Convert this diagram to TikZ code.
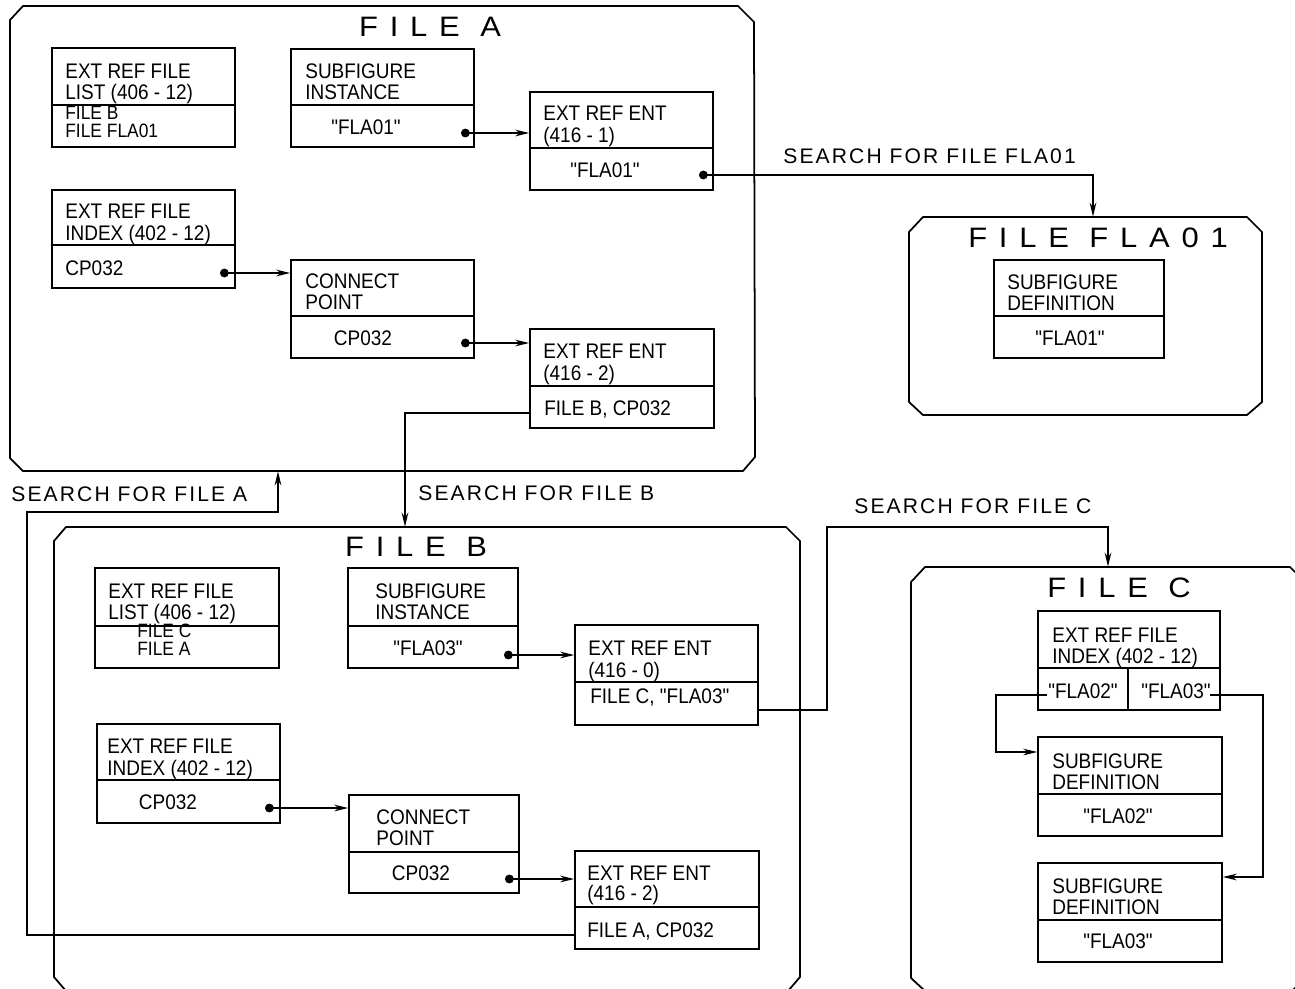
\documentclass[tikz,border=0pt]{standalone}
\usepackage{fontspec}
\setmainfont{Liberation Sans}
\newfontfamily\boxfont[FakeStretch=0.9]{Liberation Sans}
\newfontfamily\lblfont[LetterSpace=10]{Liberation Sans}
\newfontfamily\ttlfont[LetterSpace=42,FakeStretch=1.1]{Liberation Sans}
\usetikzlibrary{arrows.meta,fit}
\newcounter{tnum}
% text line: [style] {x,y} {text}
\newcommand\tline[3][bt]{\stepcounter{tnum}\node[#1] (txt\arabic{tnum}) at (#2) {#3};}
% record box: name, x1, y1, x2, y2, divider y
\newcommand\recbox[6]{%
  \node[recb, fit={(#2,#3)(#4,#5)}] (#1) {};
  \draw[recline] (#1.west |- 0,#6) -- (#1.east |- 0,#6);}
\tikzset{
  recb/.style={draw, line width=0.9pt, inner sep=0pt},
  recline/.style={line width=0.9pt},
  bt/.style={anchor=base west, inner sep=0pt, font=\boxfont\fontsize{12}{14}\selectfont},
  bc/.style={anchor=base, inner sep=0pt, font=\boxfont\fontsize{12}{14}\selectfont},
  bs/.style={anchor=base west, inner sep=0pt, font=\boxfont\fontsize{11}{13}\selectfont},
  lbl/.style={anchor=base west, inner sep=0pt, font=\lblfont\fontsize{12}{14}\selectfont},
  ttl/.style={anchor=base, inner sep=0pt, font=\ttlfont\fontsize{16}{19}\selectfont},
  cont/.style={line width=1pt, line join=round},
  conn/.style={line width=0.8pt, {Circle[length=5pt]}-{Stealth[length=8pt,width=3.8pt]}},
  link/.style={line width=0.8pt, -{Stealth[length=8pt,width=3.8pt]}},
}
\begin{document}
\begin{tikzpicture}[x=0.02cm, y=-0.02cm]
\useasboundingbox (0,0) rectangle (1295,988);

% ---------- containers ----------
\draw[cont] (10,20) -- (23,6) -- (738,6) -- (754,22) -- (755,457) -- (743,471) -- (23,471) -- (10,458) -- cycle;
\node[fit={(10,6)(755,471)}, inner sep=0pt] (fileA) {};
\draw[cont] (909,232) -- (923,217) -- (1247,217) -- (1262,232) -- (1262,402) -- (1247,415) -- (923,415) -- (909,402) -- cycle;
\node[fit={(909,217)(1262,415)}, inner sep=0pt] (fileF) {};
\draw[cont] (54,541) -- (66,527) -- (786,527) -- (800,541) -- (800,977) -- (788,991) -- (66,991) -- (54,977) -- cycle;
\node[fit={(54,527)(800,991)}, inner sep=0pt] (fileB) {};
\draw[cont] (911,582) -- (925,567) -- (1290,567) -- (1305,582) -- (1305,978) -- (1292,991) -- (925,991) -- (911,978) -- cycle;
\node[fit={(911,567)(1305,991)}, inner sep=0pt] (fileC) {};

\tline[ttl]{430,36}{FILE A}
\tline[ttl]{1098,247}{FILE FLA01}
\tline[ttl]{416,556}{FILE B}
\tline[ttl]{1119,597}{FILE C}

% ---------- FILE A ----------
\recbox{erflA}{52}{48}{235}{147}{105}
\tline{65,78}{EXT REF FILE}
\tline{65,99}{LIST (406 - 12)}
\tline[bs]{65,119}{FILE B}
\tline[bs]{65,137}{FILE FLA01}

\recbox{siA}{291}{49}{474}{147}{105}
\tline{305,78}{SUBFIGURE}
\tline{305,99}{INSTANCE}
\tline[bc]{366,134}{"FLA01"}

\recbox{ereA1}{530}{92}{713}{190}{148}
\tline{543,120}{EXT REF ENT}
\tline{543,142}{(416 - 1)}
\tline[bc]{605,177}{"FLA01"}

\recbox{erfiA}{52}{190}{235}{288}{245}
\tline{65,218}{EXT REF FILE}
\tline{65,240}{INDEX (402 - 12)}
\tline{65,275}{CP032}

\recbox{cpA}{291}{260}{474}{358}{316}
\tline{305,288}{CONNECT}
\tline{305,309}{POINT}
\tline[bc]{363,345}{CP032}

\recbox{ereA2}{530}{329}{714}{428}{386}
\tline{543,358}{EXT REF ENT}
\tline{543,380}{(416 - 2)}
\tline{544,415}{FILE B, CP032}

% ---------- FILE FLA01 ----------
\recbox{sdF}{994}{260}{1164}{358}{316}
\tline{1007,289}{SUBFIGURE}
\tline{1007,310}{DEFINITION}
\tline[bc]{1070,345}{"FLA01"}

% ---------- FILE B ----------
\recbox{erflB}{95}{568}{279}{668}{626}
\tline{108,598}{EXT REF FILE}
\tline{108,619}{LIST (406 - 12)}
\tline[bs]{137,637}{FILE C}
\tline[bs]{137,655}{FILE A}

\recbox{siB}{348}{568}{518}{668}{626}
\tline{375,598}{SUBFIGURE}
\tline{375,619}{INSTANCE}
\tline[bc]{428,655}{"FLA03"}

\recbox{ereB0}{575}{625}{758}{725}{682}
\tline{588,655}{EXT REF ENT}
\tline{588,677}{(416 - 0)}
\tline{590,703}{FILE C, "FLA03"}

\recbox{erfiB}{97}{724}{280}{823}{780}
\tline{107,753}{EXT REF FILE}
\tline{107,775}{INDEX (402 - 12)}
\tline[bc]{168,809}{CP032}

\recbox{cpB}{349}{795}{519}{893}{852}
\tline{376,824}{CONNECT}
\tline{376,845}{POINT}
\tline[bc]{421,880}{CP032}

\recbox{ereB2}{575}{851}{759}{949}{907}
\tline{587,880}{EXT REF ENT}
\tline{587,900}{(416 - 2)}
\tline{587,937}{FILE A, CP032}

% ---------- FILE C ----------
\recbox{erfiC}{1038}{611}{1220}{710}{668}
\draw[recline] (1128,668) -- (erfiC.south -| 1128,0);
\tline{1052,642}{EXT REF FILE}
\tline{1052,663}{INDEX (402 - 12)}
\tline[bc]{1083,698}{"FLA02"}
\tline[bc]{1176,698}{"FLA03"}

\recbox{sdC2}{1038}{737}{1222}{836}{794}
\tline{1052,768}{SUBFIGURE}
\tline{1052,789}{DEFINITION}
\tline[bc]{1118,823}{"FLA02"}

\recbox{sdC3}{1038}{863}{1222}{962}{920}
\tline{1052,893}{SUBFIGURE}
\tline{1052,914}{DEFINITION}
\tline[bc]{1118,948}{"FLA03"}

% ---------- connectors ----------
\coordinate (pSIA) at (461,133);
\draw[conn] (pSIA) -- (ereA1.west |- pSIA);
\coordinate (pERFIA) at (220,273);
\draw[conn] (pERFIA) -- (cpA.west |- pERFIA);
\coordinate (pCPA) at (461,343);
\draw[conn] (pCPA) -- (ereA2.west |- pCPA);
\coordinate (pEREA1) at (699,175);
\draw[conn] (pEREA1) -| (fileF.north -| 1093,0);
\draw[link] (ereA2.west |- 0,413) -| (fileB.north -| 405,0);

\coordinate (pSIB) at (504,655);
\draw[conn] (pSIB) -- (ereB0.west |- pSIB);
\coordinate (pERFIB) at (265,808);
\draw[conn] (pERFIB) -- (cpB.west |- pERFIB);
\coordinate (pCPB) at (505,879);
\draw[conn] (pCPB) -- (ereB2.west |- pCPB);
\coordinate (bendC) at (827,527);
\draw[link] (ereB0.east |- 0,710) -| (bendC) -| (fileC.north -| 1108,0);
\coordinate (bendA) at (27,512);
\draw[link] (ereB2.west |- 0,935) -| (bendA) -| (fileA.south -| 278,0);

\coordinate (pFLA02) at (1047,695);
\draw[link] (pFLA02) -| (996,752) -- (sdC2.west |- 0,752);
\coordinate (pFLA03) at (1210,695);
\draw[link] (pFLA03) -| (1263,877) -- (sdC3.east |- 0,877);

% ---------- labels ----------
\tline[lbl]{783,163}{SEARCH FOR FILE FLA01}
\tline[lbl]{418,500}{SEARCH FOR FILE B}
\tline[lbl]{11,501}{SEARCH FOR FILE A}
\tline[lbl]{854,513}{SEARCH FOR FILE C}
\end{tikzpicture}
\end{document}
